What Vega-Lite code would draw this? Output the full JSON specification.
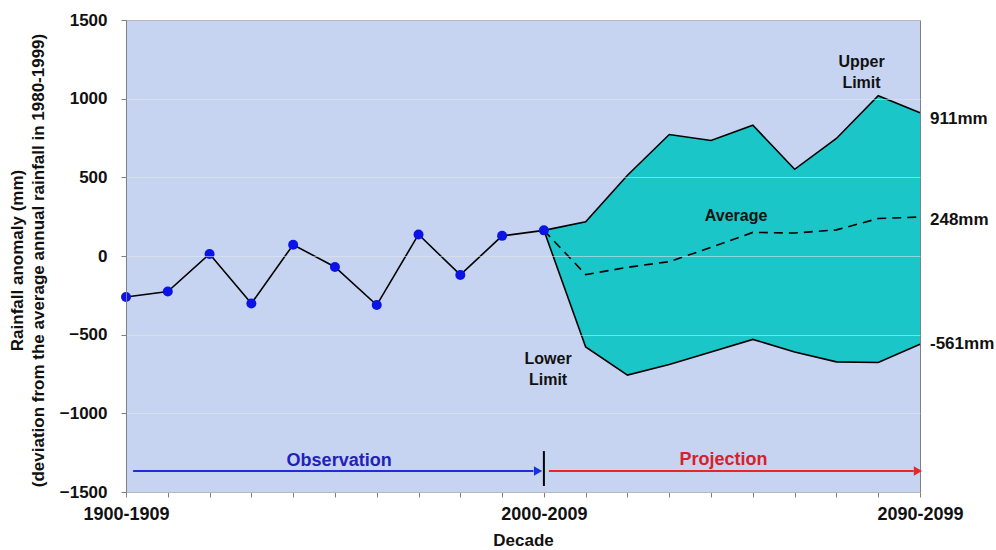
{
  "$schema": "https://vega.github.io/schema/vega-lite/v6.json",
  "width": 794,
  "height": 472,
  "autosize": {"type": "none"},
  "padding": {"left": 126, "top": 20, "right": 76, "bottom": 58},
  "background": "white",
  "config": {
    "font": "Liberation Sans",
    "view": {"fill": "#C6D4F2", "stroke": "#808080", "strokeWidth": 1}
  },
  "datasets": {
    "obs": [
      {"year": 1900, "value": -261},
      {"year": 1910, "value": -226},
      {"year": 1920, "value": 13},
      {"year": 1930, "value": -302},
      {"year": 1940, "value": 72},
      {"year": 1950, "value": -70},
      {"year": 1960, "value": -312},
      {"year": 1970, "value": 137},
      {"year": 1980, "value": -120},
      {"year": 1990, "value": 128},
      {"year": 2000, "value": 163}
    ],
    "proj": [
      {"year": 2000, "lower": 163, "avg": 163, "upper": 163},
      {"year": 2010, "lower": -578, "avg": -118, "upper": 217},
      {"year": 2020, "lower": -757, "avg": -72, "upper": 513},
      {"year": 2030, "lower": -690, "avg": -36, "upper": 772},
      {"year": 2040, "lower": -610, "avg": 55, "upper": 734},
      {"year": 2050, "lower": -530, "avg": 150, "upper": 831},
      {"year": 2060, "lower": -610, "avg": 146, "upper": 551},
      {"year": 2070, "lower": -673, "avg": 166, "upper": 747},
      {"year": 2080, "lower": -677, "avg": 238, "upper": 1019},
      {"year": 2090, "lower": -561, "avg": 248, "upper": 911}
    ],
    "notes": [
      {"year": 2076, "value": 1230, "text": "Upper\nLimit"},
      {"year": 2001, "value": -655, "text": "Lower\nLimit"},
      {"year": 2046, "value": 253, "text": "Average"}
    ],
    "endlabels": [
      {"year": 2090, "value": 870, "text": "911mm"},
      {"year": 2090, "value": 228, "text": "248mm"},
      {"year": 2090, "value": -557, "text": "-561mm"}
    ],
    "obsLabel": [{"year": 1951, "value": -1305, "text": "Observation"}],
    "projLabel": [{"year": 2043, "value": -1297, "text": "Projection"}],
    "obsArrow": [{"start": 1901.7, "end": 1997.5, "value": -1367}],
    "obsHead": [{"year": 1998.6, "value": -1367}],
    "projArrow": [{"start": 2001.2, "end": 2088.5, "value": -1367}],
    "projHead": [{"year": 2089.5, "value": -1367}],
    "divider": [{"year": 2000, "top": -1240, "bottom": -1462}]
  },
  "layer": [
    {
      "data": {"name": "proj"},
      "mark": {"type": "area", "color": "#1AC6C8", "opacity": 1},
      "encoding": {
        "x": {
          "field": "year",
          "type": "quantitative",
          "scale": {"domain": [1900, 2090], "nice": false, "zero": false},
          "axis": {
            "values": [1900, 1910, 1920, 1930, 1940, 1950, 1960, 1970, 1980, 1990, 2000, 2010, 2020, 2030, 2040, 2050, 2060, 2070, 2080, 2090],
            "labelExpr": "(datum.value == 1900 || datum.value == 2000 || datum.value == 2090) ? datum.value + '-' + (datum.value + 9) : ''",
            "grid": false,
            "domainColor": "#808080",
            "tickColor": "#808080",
            "tickSize": 5,
            "labelFontSize": 18,
            "labelFontWeight": "bold",
            "labelColor": "#111111",
            "labelPadding": 8,
            "labelFlush": false,
            "labelOverlap": false,
            "title": "Decade",
            "titleFontSize": 17,
            "titleFontWeight": "bold",
            "titleColor": "#111111",
            "titleBaseline": "top",
            "titleY": 40
          }
        },
        "y": {
          "field": "lower",
          "type": "quantitative",
          "scale": {"domain": [-1500, 1500], "nice": false},
          "axis": {
            "values": [-1500, -1000, -500, 0, 500, 1000, 1500],
            "format": "d",
            "zindex": 1,
            "grid": true,
            "gridColor": "#E8E8E8",
            "gridOpacity": 0.55,
            "domainColor": "#808080",
            "tickColor": "#808080",
            "tickSize": 5,
            "labelFontSize": 17,
            "labelFontWeight": "bold",
            "labelColor": "#111111",
            "labelPadding": 14,
            "title": ["Rainfall anomaly (mm)", "(deviation from the average annual rainfall in 1980-1999)"],
            "titleFontSize": 17,
            "titleFontWeight": "bold",
            "titleColor": "#111111",
            "titleLineHeight": 21,
            "titleAngle": -90,
            "titleBaseline": "middle",
            "titleX": -109,
            "titleY": 240
          }
        },
        "y2": {"field": "upper"}
      }
    },
    {
      "data": {"name": "proj"},
      "mark": {"type": "line", "color": "#000000", "strokeWidth": 1.6},
      "encoding": {
        "x": {"field": "year", "type": "quantitative"},
        "y": {"field": "upper", "type": "quantitative"}
      }
    },
    {
      "data": {"name": "proj"},
      "mark": {"type": "line", "color": "#000000", "strokeWidth": 1.6},
      "encoding": {
        "x": {"field": "year", "type": "quantitative"},
        "y": {"field": "lower", "type": "quantitative"}
      }
    },
    {
      "data": {"name": "proj"},
      "mark": {"type": "line", "color": "#000000", "strokeWidth": 1.6, "strokeDash": [9, 6]},
      "encoding": {
        "x": {"field": "year", "type": "quantitative"},
        "y": {"field": "avg", "type": "quantitative"}
      }
    },
    {
      "data": {"name": "obs"},
      "mark": {"type": "line", "color": "#000000", "strokeWidth": 1.6},
      "encoding": {
        "x": {"field": "year", "type": "quantitative"},
        "y": {"field": "value", "type": "quantitative"}
      }
    },
    {
      "data": {"name": "obs"},
      "mark": {"type": "point", "shape": "circle", "filled": true, "color": "#0A14E6", "opacity": 1, "size": 100},
      "encoding": {
        "x": {"field": "year", "type": "quantitative"},
        "y": {"field": "value", "type": "quantitative"}
      }
    },
    {
      "data": {"name": "notes"},
      "mark": {"type": "text", "fontSize": 16, "fontWeight": "bold", "color": "#111111", "lineBreak": "\n", "lineHeight": 21, "align": "center", "baseline": "middle"},
      "encoding": {
        "x": {"field": "year", "type": "quantitative"},
        "y": {"field": "value", "type": "quantitative"},
        "text": {"field": "text"}
      }
    },
    {
      "data": {"name": "endlabels"},
      "mark": {"type": "text", "fontSize": 17, "fontWeight": "bold", "color": "#111111", "align": "left", "baseline": "middle", "dx": 10, "clip": false},
      "encoding": {
        "x": {"field": "year", "type": "quantitative"},
        "y": {"field": "value", "type": "quantitative"},
        "text": {"field": "text"}
      }
    },
    {
      "data": {"name": "obsArrow"},
      "mark": {"type": "rule", "color": "#1A2FD8", "strokeWidth": 2},
      "encoding": {
        "x": {"field": "start", "type": "quantitative"},
        "x2": {"field": "end"},
        "y": {"field": "value", "type": "quantitative"}
      }
    },
    {
      "data": {"name": "obsHead"},
      "mark": {"type": "point", "shape": "triangle-right", "filled": true, "color": "#1A2FD8", "opacity": 1, "size": 90},
      "encoding": {
        "x": {"field": "year", "type": "quantitative"},
        "y": {"field": "value", "type": "quantitative"}
      }
    },
    {
      "data": {"name": "projArrow"},
      "mark": {"type": "rule", "color": "#E8262A", "strokeWidth": 2},
      "encoding": {
        "x": {"field": "start", "type": "quantitative"},
        "x2": {"field": "end"},
        "y": {"field": "value", "type": "quantitative"}
      }
    },
    {
      "data": {"name": "projHead"},
      "mark": {"type": "point", "shape": "triangle-right", "filled": true, "color": "#E8262A", "opacity": 1, "size": 90},
      "encoding": {
        "x": {"field": "year", "type": "quantitative"},
        "y": {"field": "value", "type": "quantitative"}
      }
    },
    {
      "data": {"name": "divider"},
      "mark": {"type": "rule", "color": "#000000", "strokeWidth": 2},
      "encoding": {
        "x": {"field": "year", "type": "quantitative"},
        "y": {"field": "top", "type": "quantitative"},
        "y2": {"field": "bottom"}
      }
    },
    {
      "data": {"name": "obsLabel"},
      "mark": {"type": "text", "fontSize": 18, "fontWeight": "bold", "color": "#2222B8", "align": "center", "baseline": "middle"},
      "encoding": {
        "x": {"field": "year", "type": "quantitative"},
        "y": {"field": "value", "type": "quantitative"},
        "text": {"field": "text"}
      }
    },
    {
      "data": {"name": "projLabel"},
      "mark": {"type": "text", "fontSize": 18, "fontWeight": "bold", "color": "#D8202A", "align": "center", "baseline": "middle"},
      "encoding": {
        "x": {"field": "year", "type": "quantitative"},
        "y": {"field": "value", "type": "quantitative"},
        "text": {"field": "text"}
      }
    }
  ]
}
